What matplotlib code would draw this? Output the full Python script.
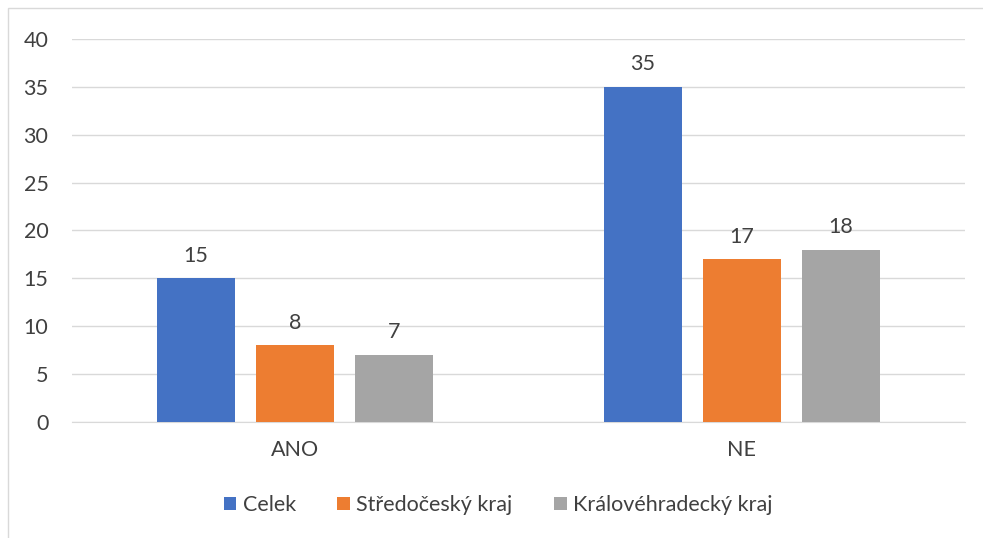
import numpy as np
import matplotlib.pyplot as plt
from matplotlib.patches import Rectangle

# data
categories = ["ANO", "NE"]
series_names = ["Celek", "Středočeský kraj", "Královéhradecký kraj"]
celek = [15, 35]
stredocesky = [8, 17]
kralovehradecky = [7, 18]
colors = ["#4472C4", "#ED7D31", "#A5A5A5"]

plt.rcParams["font.family"] = ["Lato", "DejaVu Sans"]
text_color = "#404040"
fs = 15.5

fig = plt.figure(figsize=(9.83, 5.38), dpi=100)
ax = fig.add_axes([72 / 983, 1 - 422 / 538, (965 - 72) / 983, (422 - 39) / 538])

x = np.arange(len(categories))
width = 0.175
step = width + 0.047
for i, (vals, name) in enumerate(zip([celek, stredocesky, kralovehradecky], series_names)):
    bars = ax.bar(x + (i - 1) * step, vals, width, color=colors[i], label=name, zorder=3)
    ax.bar_label(bars, padding=9, fontsize=fs, color=text_color)

ax.set_xlim(-0.5, 1.5)
ax.set_ylim(0, 40)
ax.set_yticks(range(0, 41, 5))
ax.set_xticks(x)
ax.set_xticklabels(categories)
ax.tick_params(axis="both", length=0, labelsize=fs, colors=text_color)
ax.tick_params(axis="y", pad=17)
ax.tick_params(axis="x", pad=13)
ax.grid(axis="y", color="#D9D9D9", linewidth=1, zorder=0)
for s in ["top", "right", "left"]:
    ax.spines[s].set_visible(False)
ax.spines["bottom"].set_color("#D9D9D9")

ax.legend(loc="center", bbox_to_anchor=(498 / 983, 1 - 505 / 538), bbox_transform=fig.transFigure,
          ncol=3, frameon=False, fontsize=fs, labelcolor=text_color,
          handlelength=0.6, handleheight=0.6, handletextpad=0.3, columnspacing=1.9)

# light chart border
fig.add_artist(Rectangle((8 / 983, -0.01), 1.1, 1 - 8 / 538 + 0.01, transform=fig.transFigure,
                         fill=False, edgecolor="#D9D9D9", linewidth=1))

plt.savefig("out.png", dpi=100)
plt.close()
